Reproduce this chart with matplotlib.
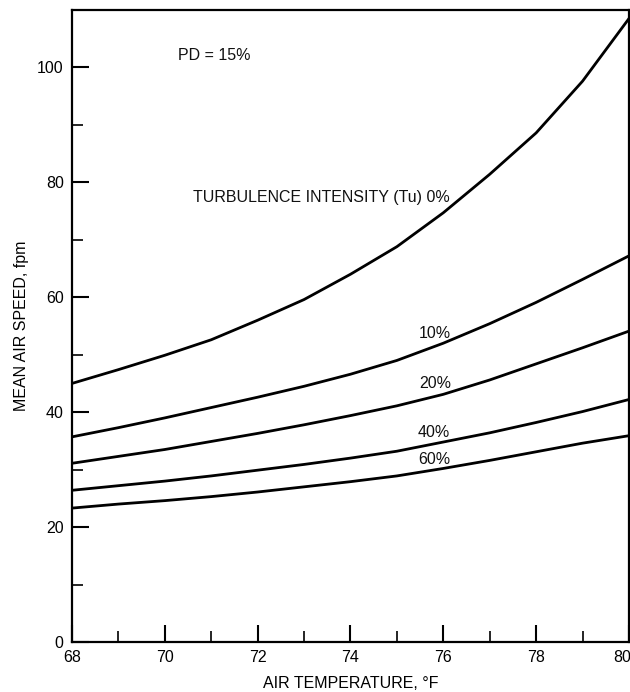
import numpy as np
import matplotlib
matplotlib.use("Agg")
import matplotlib.pyplot as plt
import matplotlib.transforms as mtransforms
from matplotlib.ticker import MultipleLocator

plt.rcParams['font.family'] = ['Liberation Sans', 'DejaVu Sans']

temps = [68, 69, 70, 71, 72, 73, 74, 75, 76, 77, 78, 79, 80]
tu_0 = [45.0, 47.4, 49.9, 52.6, 56.0, 59.6, 64.0, 68.8, 74.7, 81.4, 88.6, 97.6, 108.5]
tu_10 = [35.7, 37.3, 39.0, 40.8, 42.6, 44.5, 46.6, 49.0, 52.0, 55.4, 59.1, 63.1, 67.2]
tu_20 = [31.1, 32.3, 33.5, 34.9, 36.3, 37.8, 39.4, 41.1, 43.1, 45.6, 48.4, 51.2, 54.1]
tu_40 = [26.4, 27.2, 28.0, 28.9, 29.9, 30.9, 32.0, 33.2, 34.8, 36.4, 38.2, 40.1, 42.2]
tu_60 = [23.3, 24.0, 24.6, 25.3, 26.1, 27.0, 27.9, 28.9, 30.2, 31.6, 33.1, 34.6, 35.9]

series = [tu_0, tu_10, tu_20, tu_40, tu_60]
labels = ["TURBULENCE INTENSITY (Tu) 0%", "10%", "20%", "40%", "60%"]
label_pos = [(70.61, 77.4), (75.48, 53.7), (75.48, 45.0), (75.45, 36.4), (75.45, 31.8)]

fig = plt.figure(figsize=(6.3, 6.92), dpi=100)
ax = fig.add_axes([0.1143, 0.0723, 0.884, 0.9133])

for s in series:
    ax.plot(temps, s, color='black', lw=2.0, solid_joinstyle='round')

fs = 11.5
for txt, (x, y) in zip(labels, label_pos):
    ax.text(x, y, txt, fontsize=fs, ha='left', va='center', color='#111111')
ax.text(70.28, 102.0, "PD = 15%", fontsize=fs, ha='left', va='center', color='#111111')

ax.set_xlim(68, 80)
ax.set_ylim(0, 110)
ax.set_xticks([68, 70, 72, 74, 76, 78, 80])
ax.xaxis.set_minor_locator(MultipleLocator(1))
ax.yaxis.set_major_locator(MultipleLocator(20))
ax.yaxis.set_minor_locator(MultipleLocator(10))
ax.tick_params(which='major', direction='in', length=12, width=1.5, labelsize=fs, pad=6)
ax.tick_params(which='minor', direction='in', length=8, width=1.2)
for sp in ax.spines.values():
    sp.set_linewidth(1.6)

ax.set_xlabel("AIR TEMPERATURE, °F", fontsize=fs, labelpad=8)
ax.set_ylabel("MEAN AIR SPEED, fpm", fontsize=fs, labelpad=6)

# the "80" label sits a little left of its tick in the original
fig.canvas.draw()
for lab in ax.get_xticklabels():
    if lab.get_text() == '80':
        lab.set_transform(lab.get_transform() + mtransforms.ScaledTranslation(-5 / 72, 0, fig.dpi_scale_trans))

fig.savefig("out.png", dpi=100)
